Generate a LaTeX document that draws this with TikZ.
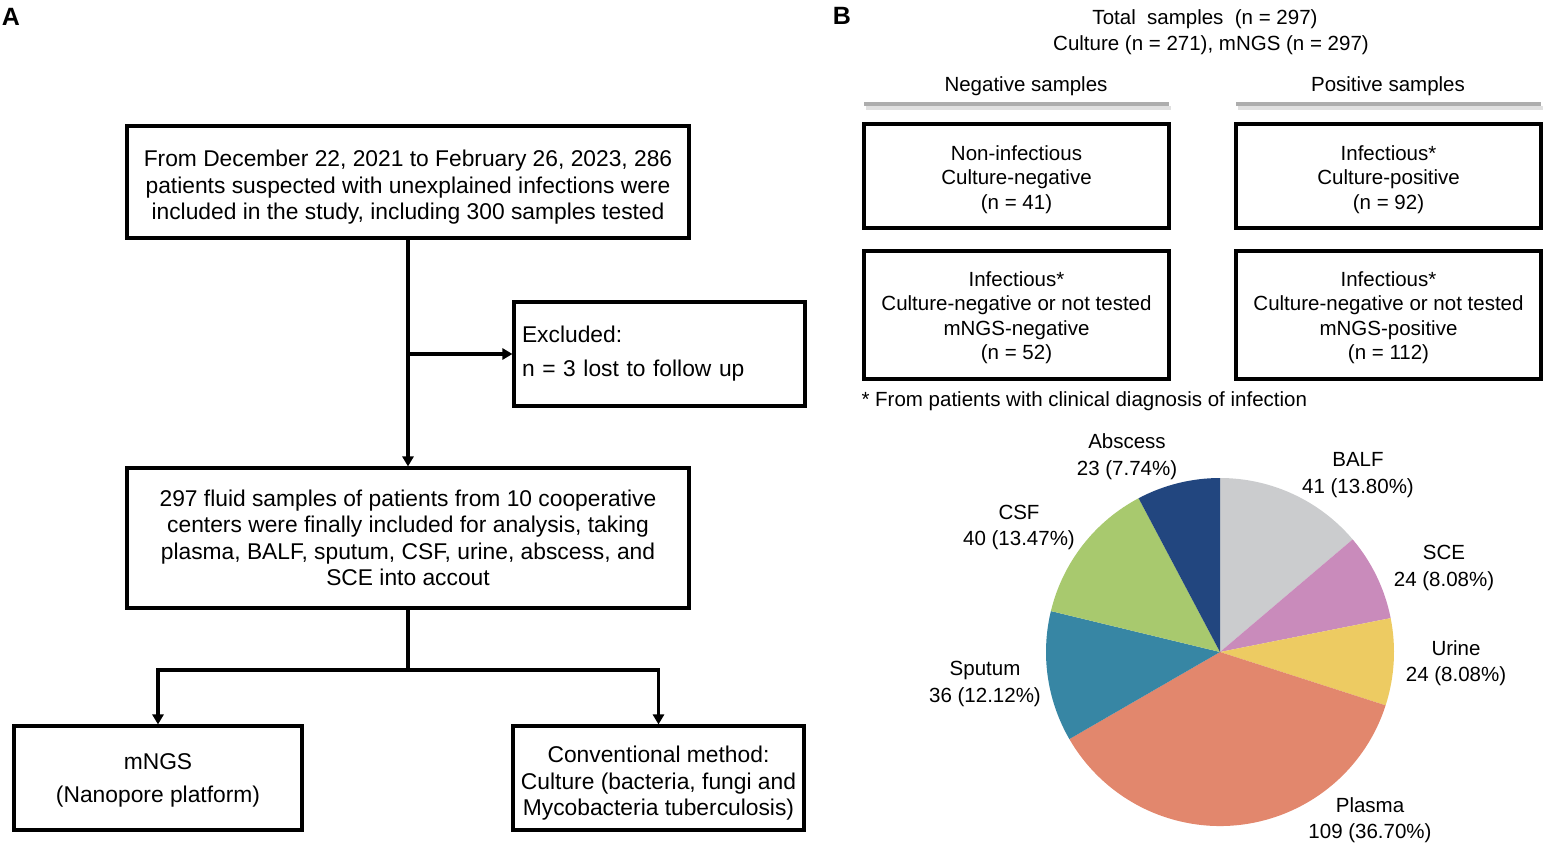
\documentclass[tikz,border=0pt]{standalone}
\usepackage{fontspec}
\setmainfont{Liberation Sans}
\usetikzlibrary{arrows.meta}

\definecolor{balf}{HTML}{CBCCCE}
\definecolor{sce}{HTML}{C98BBB}
\definecolor{urine}{HTML}{EDCB62}
\definecolor{plasma}{HTML}{E2876D}
\definecolor{sputum}{HTML}{3786A4}
\definecolor{csf}{HTML}{A8C96E}
\definecolor{absc}{HTML}{22467F}

% extra room above the first line, pushes the text down a bit
\newcommand{\padA}{\rule{0pt}{27pt}}
\newcommand{\padB}{\rule{0pt}{22pt}}

\begin{document}
\begin{tikzpicture}[x=1pt,y=-1pt,
  box/.style={draw=black, line width=3.1pt, align=center, inner sep=0pt},
  boxA/.style={box, font=\fontsize{22.8}{26.5}\selectfont},
  boxB/.style={box, font=\fontsize{20.5}{24.5}\selectfont},
  arr/.style={line width=3.1pt, -{Triangle[width=11pt,length=10pt]}},
  txtB/.style={font=\fontsize{20.5}{24.5}\selectfont},
  pielbl/.style={font=\fontsize{20.5}{26.5}\selectfont, align=center}]
\useasboundingbox (0,0) rectangle (1550,848);

% panel A
\node[font=\fontsize{25}{28}\selectfont\bfseries] (labA) at (11,17) {A};
\node[boxA, minimum width=562pt, minimum height=112pt] (start) at (408,182)
  {\padA From December 22, 2021 to February 26, 2023, 286\\patients suspected with unexplained infections were\\included in the study, including 300 samples tested};
\node[box, font=\fontsize{22.8}{34}\selectfont, align=left, text width=275pt, minimum width=291pt, minimum height=104pt] (excl) at (659.5,354)
  {Excluded:\\n = 3 lost to follow up};
\node[boxA, minimum width=562pt, minimum height=140pt] (incl) at (408,538)
  {297 fluid samples of patients from 10 cooperative\\centers were finally included for analysis, taking\\plasma, BALF, sputum, CSF, urine, abscess, and\\SCE into accout};
\node[box, font=\fontsize{22.8}{33}\selectfont, minimum width=288pt, minimum height=104pt] (mngs) at (158,778)
  {\rule{0pt}{21pt}mNGS\\(Nanopore platform)};
\node[boxA, minimum width=291pt, minimum height=104pt] (conv) at (658.5,778)
  {\padA Conventional method:\\Culture (bacteria, fungi and\\Mycobacteria tuberculosis)};

\coordinate (j1) at (408,354);
\coordinate (j2) at (408,670);
\draw[arr] (start.south) -- (incl.north);
\draw[arr] (j1) -- (excl.west);
\draw[line width=3.1pt] (incl.south) -- (j2);
\draw[arr] (j2) -| (mngs.north);
\draw[arr] (j2) -| (conv.north);

% panel B
\node[font=\fontsize{25}{28}\selectfont\bfseries] (labB) at (842,16) {B};
\node[txtB] (tot1) at (1205,19) {Total\ \ samples\ \ (n = 297)};
\node[txtB] (tot2) at (1211,45) {Culture (n = 271), mNGS (n = 297)};

\node[txtB] (neg) at (1026,86) {Negative samples};
\node[txtB] (pos) at (1388,86) {Positive samples};
\draw[line width=4pt, black!12] (866,108) -- (1171,108);
\draw[line width=4pt, black!32] (864,104) -- (1169,104);
\draw[line width=4pt, black!12] (1238,108) -- (1543,108);
\draw[line width=4pt, black!32] (1236,104) -- (1541,104);

\node[boxB, minimum width=305pt, minimum height=104pt] (neg1) at (1016.5,176)
  {\padB Non-infectious\\Culture-negative\\(n = 41)};
\node[boxB, minimum width=305pt, minimum height=104pt] (pos1) at (1388.5,176)
  {\padB Infectious*\\Culture-positive\\(n = 92)};
\node[boxB, minimum width=305pt, minimum height=128pt] (neg2) at (1016.5,315)
  {\rule{0pt}{20pt}Infectious*\\Culture-negative or not tested\\mNGS-negative\\(n = 52)};
\node[boxB, minimum width=305pt, minimum height=128pt] (pos2) at (1388.5,315)
  {\rule{0pt}{20pt}Infectious*\\Culture-negative or not tested\\mNGS-positive\\(n = 112)};
\node[txtB, anchor=west] (note) at (858,401) {* From patients with clinical diagnosis of infection};

% pie chart
\coordinate (pc) at (1220,652);
\foreach \a/\b/\c in {90/40.32/balf, 40.32/11.23/sce, 11.23/-17.86/urine,
    -17.86/-149.98/plasma, -149.98/-193.61/sputum, -193.61/-242.10/csf, -242.10/-270/absc}
  \fill[\c] (pc) -- ([shift={(\a:174pt)}]pc) arc[start angle=\a, end angle=\b, radius=174pt] -- cycle;

\node[pielbl] (l-absc) at (1127,456.5) {Abscess\\23 (7.74\%)};
\node[pielbl] (l-balf) at (1358,475) {BALF\\41 (13.80\%)};
\node[pielbl] (l-sce) at (1444,568) {SCE\\24 (8.08\%)};
\node[pielbl] (l-urine) at (1456,663) {Urine\\24 (8.08\%)};
\node[pielbl] (l-plasma) at (1370,820) {Plasma\\109 (36.70\%)};
\node[pielbl] (l-sputum) at (985,684) {Sputum\\36 (12.12\%)};
\node[pielbl] (l-csf) at (1019,527.5) {CSF\\40 (13.47\%)};
\end{tikzpicture}
\end{document}
